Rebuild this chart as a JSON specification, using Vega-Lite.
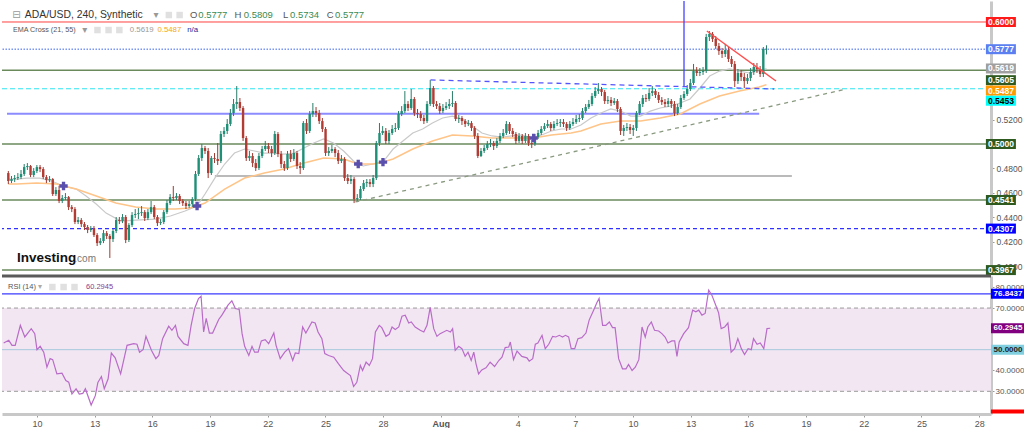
{
"$schema":"https://vega.github.io/schema/vega-lite/v6.json",
"padding":0,
"background":"#ffffff",
"spacing":3,
"bounds":"flush",
"config":{"view":{"stroke":null},"axis":{"grid":false},"font":"Liberation Sans"},
"datasets":{
"ohlc":[
{"i":0,"o":0.4762,"h":0.4779,"l":0.4672,"c":0.4697},{"i":1,"o":0.4697,"h":0.4738,"l":0.4680,"c":0.4713},{"i":2,"o":0.4713,"h":0.4746,"l":0.4688,"c":0.4721},{"i":3,"o":0.4721,"h":0.4762,"l":0.4705,"c":0.4729},{"i":4,"o":0.4729,"h":0.4787,"l":0.4713,"c":0.4754},{"i":5,"o":0.4754,"h":0.4836,"l":0.4738,"c":0.4811},{"i":6,"o":0.4811,"h":0.4844,"l":0.4787,"c":0.4820},{"i":7,"o":0.4820,"h":0.4828,"l":0.4729,"c":0.4746},{"i":8,"o":0.4746,"h":0.4803,"l":0.4729,"c":0.4779},{"i":9,"o":0.4779,"h":0.4828,"l":0.4762,"c":0.4811},
{"i":10,"o":0.4811,"h":0.4828,"l":0.4770,"c":0.4795},{"i":11,"o":0.4795,"h":0.4811,"l":0.4713,"c":0.4729},{"i":12,"o":0.4729,"h":0.4746,"l":0.4680,"c":0.4705},{"i":13,"o":0.4705,"h":0.4738,"l":0.4688,"c":0.4713},{"i":14,"o":0.4713,"h":0.4721,"l":0.4574,"c":0.4590},{"i":15,"o":0.4590,"h":0.4647,"l":0.4574,"c":0.4623},{"i":16,"o":0.4623,"h":0.4656,"l":0.4516,"c":0.4533},{"i":17,"o":0.4533,"h":0.4582,"l":0.4516,"c":0.4557},{"i":18,"o":0.4557,"h":0.4598,"l":0.4541,"c":0.4565},{"i":19,"o":0.4565,"h":0.4574,"l":0.4459,"c":0.4483},
{"i":20,"o":0.4483,"h":0.4500,"l":0.4442,"c":0.4467},{"i":21,"o":0.4467,"h":0.4483,"l":0.4344,"c":0.4361},{"i":22,"o":0.4361,"h":0.4402,"l":0.4344,"c":0.4377},{"i":23,"o":0.4377,"h":0.4393,"l":0.4320,"c":0.4344},{"i":24,"o":0.4344,"h":0.4361,"l":0.4295,"c":0.4320},{"i":25,"o":0.4320,"h":0.4336,"l":0.4270,"c":0.4295},{"i":26,"o":0.4295,"h":0.4328,"l":0.4279,"c":0.4311},{"i":27,"o":0.4311,"h":0.4328,"l":0.4238,"c":0.4254},{"i":28,"o":0.4254,"h":0.4270,"l":0.4164,"c":0.4188},{"i":29,"o":0.4188,"h":0.4229,"l":0.4172,"c":0.4205},
{"i":30,"o":0.4205,"h":0.4295,"l":0.4188,"c":0.4270},{"i":31,"o":0.4270,"h":0.4287,"l":0.4221,"c":0.4246},{"i":32,"o":0.4246,"h":0.4262,"l":0.4066,"c":0.4221},{"i":33,"o":0.4221,"h":0.4303,"l":0.4197,"c":0.4287},{"i":34,"o":0.4287,"h":0.4402,"l":0.4270,"c":0.4377},{"i":35,"o":0.4377,"h":0.4402,"l":0.4344,"c":0.4369},{"i":36,"o":0.4369,"h":0.4426,"l":0.4352,"c":0.4402},{"i":37,"o":0.4402,"h":0.4418,"l":0.4188,"c":0.4213},{"i":38,"o":0.4213,"h":0.4352,"l":0.4197,"c":0.4336},{"i":39,"o":0.4336,"h":0.4442,"l":0.4320,"c":0.4418},
{"i":40,"o":0.4418,"h":0.4467,"l":0.4393,"c":0.4426},{"i":41,"o":0.4426,"h":0.4475,"l":0.4385,"c":0.4434},{"i":42,"o":0.4434,"h":0.4492,"l":0.4410,"c":0.4442},{"i":43,"o":0.4442,"h":0.4459,"l":0.4369,"c":0.4393},{"i":44,"o":0.4393,"h":0.4467,"l":0.4377,"c":0.4442},{"i":45,"o":0.4442,"h":0.4533,"l":0.4426,"c":0.4483},{"i":46,"o":0.4483,"h":0.4500,"l":0.4385,"c":0.4402},{"i":47,"o":0.4402,"h":0.4418,"l":0.4328,"c":0.4352},{"i":48,"o":0.4352,"h":0.4385,"l":0.4336,"c":0.4361},{"i":49,"o":0.4361,"h":0.4459,"l":0.4344,"c":0.4442},
{"i":50,"o":0.4442,"h":0.4541,"l":0.4426,"c":0.4516},{"i":51,"o":0.4516,"h":0.4590,"l":0.4500,"c":0.4565},{"i":52,"o":0.4565,"h":0.4656,"l":0.4533,"c":0.4557},{"i":53,"o":0.4557,"h":0.4598,"l":0.4541,"c":0.4574},{"i":54,"o":0.4574,"h":0.4590,"l":0.4508,"c":0.4533},{"i":55,"o":0.4533,"h":0.4549,"l":0.4492,"c":0.4516},{"i":56,"o":0.4516,"h":0.4533,"l":0.4467,"c":0.4492},{"i":57,"o":0.4492,"h":0.4533,"l":0.4475,"c":0.4508},{"i":58,"o":0.4508,"h":0.4565,"l":0.4483,"c":0.4549},{"i":59,"o":0.4549,"h":0.4779,"l":0.4533,"c":0.4754},
{"i":60,"o":0.4754,"h":0.4910,"l":0.4738,"c":0.4885},{"i":61,"o":0.4885,"h":0.5000,"l":0.4861,"c":0.4967},{"i":62,"o":0.4967,"h":0.4984,"l":0.4918,"c":0.4943},{"i":63,"o":0.4943,"h":0.4967,"l":0.4721,"c":0.4762},{"i":64,"o":0.4762,"h":0.4902,"l":0.4746,"c":0.4885},{"i":65,"o":0.4885,"h":0.4926,"l":0.4844,"c":0.4877},{"i":66,"o":0.4877,"h":0.5008,"l":0.4828,"c":0.4861},{"i":67,"o":0.4861,"h":0.5107,"l":0.4844,"c":0.5082},{"i":68,"o":0.5082,"h":0.5139,"l":0.5057,"c":0.5107},{"i":69,"o":0.5107,"h":0.5205,"l":0.5082,"c":0.5164},
{"i":70,"o":0.5164,"h":0.5287,"l":0.5147,"c":0.5254},{"i":71,"o":0.5254,"h":0.5369,"l":0.5229,"c":0.5328},{"i":72,"o":0.5328,"h":0.5475,"l":0.5287,"c":0.5344},{"i":73,"o":0.5344,"h":0.5377,"l":0.5270,"c":0.5295},{"i":74,"o":0.5295,"h":0.5311,"l":0.5025,"c":0.5049},{"i":75,"o":0.5049,"h":0.5066,"l":0.4861,"c":0.4885},{"i":76,"o":0.4885,"h":0.4943,"l":0.4861,"c":0.4902},{"i":77,"o":0.4902,"h":0.4926,"l":0.4811,"c":0.4844},{"i":78,"o":0.4844,"h":0.4877,"l":0.4779,"c":0.4803},{"i":79,"o":0.4803,"h":0.4926,"l":0.4787,"c":0.4902},
{"i":80,"o":0.4902,"h":0.4984,"l":0.4885,"c":0.4959},{"i":81,"o":0.4959,"h":0.5025,"l":0.4943,"c":0.4984},{"i":82,"o":0.4984,"h":0.5008,"l":0.4926,"c":0.4959},{"i":83,"o":0.4959,"h":0.4984,"l":0.4893,"c":0.4926},{"i":84,"o":0.4926,"h":0.5107,"l":0.4910,"c":0.5082},{"i":85,"o":0.5082,"h":0.5098,"l":0.4893,"c":0.4918},{"i":86,"o":0.4918,"h":0.4943,"l":0.4803,"c":0.4836},{"i":87,"o":0.4836,"h":0.4861,"l":0.4779,"c":0.4803},{"i":88,"o":0.4803,"h":0.4943,"l":0.4787,"c":0.4918},{"i":89,"o":0.4918,"h":0.4951,"l":0.4852,"c":0.4877},
{"i":90,"o":0.4877,"h":0.4959,"l":0.4861,"c":0.4926},{"i":91,"o":0.4926,"h":0.4943,"l":0.4795,"c":0.4820},{"i":92,"o":0.4820,"h":0.4852,"l":0.4754,"c":0.4803},{"i":93,"o":0.4803,"h":0.5188,"l":0.4787,"c":0.5172},{"i":94,"o":0.5172,"h":0.5205,"l":0.5082,"c":0.5107},{"i":95,"o":0.5107,"h":0.5270,"l":0.5090,"c":0.5246},{"i":96,"o":0.5246,"h":0.5336,"l":0.5221,"c":0.5270},{"i":97,"o":0.5270,"h":0.5303,"l":0.5221,"c":0.5254},{"i":98,"o":0.5254,"h":0.5279,"l":0.5164,"c":0.5188},{"i":99,"o":0.5188,"h":0.5213,"l":0.5098,"c":0.5123},
{"i":100,"o":0.5123,"h":0.5139,"l":0.4902,"c":0.4926},{"i":101,"o":0.4926,"h":0.4975,"l":0.4902,"c":0.4943},{"i":102,"o":0.4943,"h":0.4992,"l":0.4926,"c":0.4959},{"i":103,"o":0.4959,"h":0.4975,"l":0.4893,"c":0.4926},{"i":104,"o":0.4926,"h":0.4951,"l":0.4836,"c":0.4861},{"i":105,"o":0.4861,"h":0.4910,"l":0.4844,"c":0.4877},{"i":106,"o":0.4877,"h":0.4893,"l":0.4697,"c":0.4721},{"i":107,"o":0.4721,"h":0.4754,"l":0.4672,"c":0.4697},{"i":108,"o":0.4697,"h":0.4746,"l":0.4672,"c":0.4713},{"i":109,"o":0.4713,"h":0.4729,"l":0.4516,"c":0.4549},
{"i":110,"o":0.4549,"h":0.4590,"l":0.4524,"c":0.4557},{"i":111,"o":0.4557,"h":0.4656,"l":0.4541,"c":0.4631},{"i":112,"o":0.4631,"h":0.4705,"l":0.4615,"c":0.4680},{"i":113,"o":0.4680,"h":0.4713,"l":0.4647,"c":0.4688},{"i":114,"o":0.4688,"h":0.4713,"l":0.4647,"c":0.4672},{"i":115,"o":0.4672,"h":0.4746,"l":0.4647,"c":0.4721},{"i":116,"o":0.4721,"h":0.5025,"l":0.4705,"c":0.5008},{"i":117,"o":0.5008,"h":0.5172,"l":0.4984,"c":0.5090},{"i":118,"o":0.5090,"h":0.5147,"l":0.5074,"c":0.5107},{"i":119,"o":0.5107,"h":0.5131,"l":0.5000,"c":0.5025},
{"i":120,"o":0.5025,"h":0.5115,"l":0.5000,"c":0.5090},{"i":121,"o":0.5090,"h":0.5156,"l":0.5074,"c":0.5123},{"i":122,"o":0.5123,"h":0.5172,"l":0.5098,"c":0.5131},{"i":123,"o":0.5131,"h":0.5270,"l":0.5115,"c":0.5246},{"i":124,"o":0.5246,"h":0.5311,"l":0.5229,"c":0.5270},{"i":125,"o":0.5270,"h":0.5434,"l":0.5254,"c":0.5328},{"i":126,"o":0.5328,"h":0.5352,"l":0.5270,"c":0.5295},{"i":127,"o":0.5295,"h":0.5451,"l":0.5279,"c":0.5369},{"i":128,"o":0.5369,"h":0.5385,"l":0.5229,"c":0.5254},{"i":129,"o":0.5254,"h":0.5287,"l":0.5213,"c":0.5246},
{"i":130,"o":0.5246,"h":0.5270,"l":0.5188,"c":0.5213},{"i":131,"o":0.5213,"h":0.5238,"l":0.5164,"c":0.5188},{"i":132,"o":0.5188,"h":0.5352,"l":0.5172,"c":0.5328},{"i":133,"o":0.5328,"h":0.5525,"l":0.5311,"c":0.5459},{"i":134,"o":0.5459,"h":0.5475,"l":0.5303,"c":0.5328},{"i":135,"o":0.5328,"h":0.5352,"l":0.5287,"c":0.5311},{"i":136,"o":0.5311,"h":0.5336,"l":0.5246,"c":0.5270},{"i":137,"o":0.5270,"h":0.5328,"l":0.5254,"c":0.5295},{"i":138,"o":0.5295,"h":0.5344,"l":0.5279,"c":0.5311},{"i":139,"o":0.5311,"h":0.5369,"l":0.5287,"c":0.5328},
{"i":140,"o":0.5328,"h":0.5434,"l":0.5303,"c":0.5336},{"i":141,"o":0.5336,"h":0.5352,"l":0.5188,"c":0.5205},{"i":142,"o":0.5205,"h":0.5238,"l":0.5172,"c":0.5213},{"i":143,"o":0.5213,"h":0.5229,"l":0.5156,"c":0.5188},{"i":144,"o":0.5188,"h":0.5205,"l":0.5139,"c":0.5164},{"i":145,"o":0.5164,"h":0.5197,"l":0.5147,"c":0.5172},{"i":146,"o":0.5172,"h":0.5188,"l":0.5107,"c":0.5131},{"i":147,"o":0.5131,"h":0.5147,"l":0.5041,"c":0.5066},{"i":148,"o":0.5066,"h":0.5090,"l":0.4885,"c":0.4902},{"i":149,"o":0.4902,"h":0.4967,"l":0.4893,"c":0.4943},
{"i":150,"o":0.4943,"h":0.4992,"l":0.4926,"c":0.4967},{"i":151,"o":0.4967,"h":0.5025,"l":0.4951,"c":0.5000},{"i":152,"o":0.5000,"h":0.5041,"l":0.4975,"c":0.5008},{"i":153,"o":0.5008,"h":0.5025,"l":0.4951,"c":0.4984},{"i":154,"o":0.4984,"h":0.5049,"l":0.4967,"c":0.5025},{"i":155,"o":0.5025,"h":0.5090,"l":0.5008,"c":0.5066},{"i":156,"o":0.5066,"h":0.5123,"l":0.5049,"c":0.5090},{"i":157,"o":0.5090,"h":0.5188,"l":0.5074,"c":0.5164},{"i":158,"o":0.5164,"h":0.5180,"l":0.5082,"c":0.5107},{"i":159,"o":0.5107,"h":0.5131,"l":0.5057,"c":0.5082},
{"i":160,"o":0.5082,"h":0.5098,"l":0.5000,"c":0.5025},{"i":161,"o":0.5025,"h":0.5090,"l":0.5008,"c":0.5066},{"i":162,"o":0.5066,"h":0.5082,"l":0.5000,"c":0.5025},{"i":163,"o":0.5025,"h":0.5090,"l":0.5008,"c":0.5066},{"i":164,"o":0.5066,"h":0.5082,"l":0.4984,"c":0.5008},{"i":165,"o":0.5008,"h":0.5033,"l":0.4967,"c":0.5000},{"i":166,"o":0.5000,"h":0.5082,"l":0.4984,"c":0.5057},{"i":167,"o":0.5057,"h":0.5115,"l":0.5041,"c":0.5090},{"i":168,"o":0.5090,"h":0.5147,"l":0.5074,"c":0.5123},{"i":169,"o":0.5123,"h":0.5172,"l":0.5107,"c":0.5147},
{"i":170,"o":0.5147,"h":0.5197,"l":0.5131,"c":0.5164},{"i":171,"o":0.5164,"h":0.5180,"l":0.5107,"c":0.5131},{"i":172,"o":0.5131,"h":0.5188,"l":0.5115,"c":0.5164},{"i":173,"o":0.5164,"h":0.5205,"l":0.5147,"c":0.5172},{"i":174,"o":0.5172,"h":0.5205,"l":0.5139,"c":0.5180},{"i":175,"o":0.5180,"h":0.5205,"l":0.5139,"c":0.5164},{"i":176,"o":0.5164,"h":0.5180,"l":0.5107,"c":0.5131},{"i":177,"o":0.5131,"h":0.5188,"l":0.5115,"c":0.5164},{"i":178,"o":0.5164,"h":0.5213,"l":0.5147,"c":0.5180},{"i":179,"o":0.5180,"h":0.5238,"l":0.5164,"c":0.5205},
{"i":180,"o":0.5205,"h":0.5246,"l":0.5180,"c":0.5213},{"i":181,"o":0.5213,"h":0.5295,"l":0.5197,"c":0.5270},{"i":182,"o":0.5270,"h":0.5328,"l":0.5254,"c":0.5303},{"i":183,"o":0.5303,"h":0.5361,"l":0.5287,"c":0.5328},{"i":184,"o":0.5328,"h":0.5418,"l":0.5311,"c":0.5393},{"i":185,"o":0.5393,"h":0.5467,"l":0.5377,"c":0.5434},{"i":186,"o":0.5434,"h":0.5500,"l":0.5410,"c":0.5451},{"i":187,"o":0.5451,"h":0.5467,"l":0.5393,"c":0.5426},{"i":188,"o":0.5426,"h":0.5443,"l":0.5328,"c":0.5352},{"i":189,"o":0.5352,"h":0.5393,"l":0.5328,"c":0.5361},
{"i":190,"o":0.5361,"h":0.5385,"l":0.5311,"c":0.5336},{"i":191,"o":0.5336,"h":0.5377,"l":0.5320,"c":0.5352},{"i":192,"o":0.5352,"h":0.5369,"l":0.5262,"c":0.5287},{"i":193,"o":0.5287,"h":0.5303,"l":0.5074,"c":0.5107},{"i":194,"o":0.5107,"h":0.5156,"l":0.5066,"c":0.5131},{"i":195,"o":0.5131,"h":0.5172,"l":0.5107,"c":0.5139},{"i":196,"o":0.5139,"h":0.5164,"l":0.5082,"c":0.5115},{"i":197,"o":0.5115,"h":0.5156,"l":0.5066,"c":0.5131},{"i":198,"o":0.5131,"h":0.5270,"l":0.5107,"c":0.5254},{"i":199,"o":0.5254,"h":0.5352,"l":0.5238,"c":0.5328},
{"i":200,"o":0.5328,"h":0.5402,"l":0.5303,"c":0.5377},{"i":201,"o":0.5377,"h":0.5410,"l":0.5344,"c":0.5369},{"i":202,"o":0.5369,"h":0.5459,"l":0.5352,"c":0.5418},{"i":203,"o":0.5418,"h":0.5475,"l":0.5393,"c":0.5434},{"i":204,"o":0.5434,"h":0.5451,"l":0.5377,"c":0.5402},{"i":205,"o":0.5402,"h":0.5426,"l":0.5336,"c":0.5361},{"i":206,"o":0.5361,"h":0.5385,"l":0.5320,"c":0.5344},{"i":207,"o":0.5344,"h":0.5369,"l":0.5303,"c":0.5328},{"i":208,"o":0.5328,"h":0.5377,"l":0.5303,"c":0.5352},{"i":209,"o":0.5352,"h":0.5369,"l":0.5295,"c":0.5328},
{"i":210,"o":0.5328,"h":0.5352,"l":0.5229,"c":0.5254},{"i":211,"o":0.5254,"h":0.5328,"l":0.5238,"c":0.5303},{"i":212,"o":0.5303,"h":0.5402,"l":0.5287,"c":0.5377},{"i":213,"o":0.5377,"h":0.5434,"l":0.5361,"c":0.5410},{"i":214,"o":0.5410,"h":0.5484,"l":0.5393,"c":0.5451},{"i":215,"o":0.5451,"h":0.5533,"l":0.5434,"c":0.5500},{"i":216,"o":0.5500,"h":0.5656,"l":0.5484,"c":0.5598},{"i":217,"o":0.5598,"h":0.5631,"l":0.5557,"c":0.5582},{"i":218,"o":0.5582,"h":0.5623,"l":0.5557,"c":0.5590},{"i":219,"o":0.5590,"h":0.5631,"l":0.5566,"c":0.5598},
{"i":220,"o":0.5598,"h":0.5902,"l":0.5582,"c":0.5877},{"i":221,"o":0.5877,"h":0.5926,"l":0.5844,"c":0.5902},{"i":222,"o":0.5902,"h":0.5918,"l":0.5836,"c":0.5861},{"i":223,"o":0.5861,"h":0.5885,"l":0.5779,"c":0.5803},{"i":224,"o":0.5803,"h":0.5828,"l":0.5730,"c":0.5762},{"i":225,"o":0.5762,"h":0.5787,"l":0.5705,"c":0.5738},{"i":226,"o":0.5738,"h":0.5820,"l":0.5713,"c":0.5770},{"i":227,"o":0.5770,"h":0.5795,"l":0.5672,"c":0.5697},{"i":228,"o":0.5697,"h":0.5721,"l":0.5631,"c":0.5656},{"i":229,"o":0.5656,"h":0.5680,"l":0.5467,"c":0.5516},
{"i":230,"o":0.5516,"h":0.5615,"l":0.5492,"c":0.5582},{"i":231,"o":0.5582,"h":0.5607,"l":0.5516,"c":0.5549},{"i":232,"o":0.5549,"h":0.5582,"l":0.5459,"c":0.5516},{"i":233,"o":0.5516,"h":0.5574,"l":0.5492,"c":0.5541},{"i":234,"o":0.5541,"h":0.5623,"l":0.5516,"c":0.5590},{"i":235,"o":0.5590,"h":0.5664,"l":0.5566,"c":0.5631},{"i":236,"o":0.5631,"h":0.5664,"l":0.5582,"c":0.5615},{"i":237,"o":0.5615,"h":0.5639,"l":0.5549,"c":0.5574},{"i":238,"o":0.5574,"h":0.5795,"l":0.5549,"c":0.5779},{"i":239,"o":0.5777,"h":0.5809,"l":0.5734,"c":0.5777}
],
"ema21":[
{"i":0,"p":0.4713},{"i":2.7,"p":0.4713},{"i":5.8,"p":0.4721},{"i":9.9,"p":0.4721},{"i":13.6,"p":0.4697},{"i":17.4,"p":0.4656},{"i":21.4,"p":0.4631},{"i":24.5,"p":0.4574},{"i":27.7,"p":0.4508},{"i":30.8,"p":0.4434},{"i":35.5,"p":0.4369},{"i":40.1,"p":0.4377},{"i":46.4,"p":0.4385},{"i":51.1,"p":0.4410},{"i":55.7,"p":0.4451},{"i":59.5,"p":0.4492},{"i":62,"p":0.4590},{"i":65.1,"p":0.4721},{"i":68.2,"p":0.4836},{"i":71.3,"p":0.4926},{"i":74.5,"p":0.4959},{"i":77.6,"p":0.4943},{"i":80.7,"p":0.4926},{"i":83.8,"p":0.4926},{"i":86.9,"p":0.4918},{"i":90.1,"p":0.4926},{"i":93.2,"p":0.4967},{"i":96.3,"p":0.5008},{"i":99.4,"p":0.5041},{"i":102.5,"p":0.5008},{"i":105.7,"p":0.4943},{"i":108.8,"p":0.4861},{"i":110.3,"p":0.4836},{"i":111.9,"p":0.4820},{"i":115,"p":0.4836},{"i":118.1,"p":0.4852},{"i":121.3,"p":0.4959},{"i":124.4,"p":0.5025},{"i":127.5,"p":0.5090},{"i":130.6,"p":0.5123},{"i":133.7,"p":0.5172},{"i":136.9,"p":0.5213},{"i":140,"p":0.5229},{"i":143.1,"p":0.5205},{"i":146.2,"p":0.5147},{"i":149.3,"p":0.5090},{"i":152.5,"p":0.5066},{"i":155.6,"p":0.5057},{"i":158.7,"p":0.5066},{"i":161.8,"p":0.5074},{"i":165.6,"p":0.5049},{"i":168.1,"p":0.5074},{"i":171.2,"p":0.5107},{"i":174.3,"p":0.5123},{"i":177.4,"p":0.5123},{"i":180.5,"p":0.5156},{"i":183.7,"p":0.5213},{"i":186.8,"p":0.5254},{"i":189.9,"p":0.5287},{"i":193,"p":0.5270},{"i":196.2,"p":0.5229},{"i":199.3,"p":0.5229},{"i":202.4,"p":0.5270},{"i":205.5,"p":0.5295},{"i":208.6,"p":0.5311},{"i":211.8,"p":0.5336},{"i":214.9,"p":0.5369},{"i":218,"p":0.5459},{"i":221.1,"p":0.5557},{"i":224.2,"p":0.5598},{"i":227.4,"p":0.5615},{"i":230.5,"p":0.5598},{"i":233.6,"p":0.5582},{"i":236.7,"p":0.5598},{"i":239,"p":0.5619}
],
"ema55":[
{"i":0,"p":0.4672},{"i":2.7,"p":0.4672},{"i":8.9,"p":0.4680},{"i":15.2,"p":0.4672},{"i":17.4,"p":0.4656},{"i":21.4,"p":0.4631},{"i":27.7,"p":0.4574},{"i":33.9,"p":0.4516},{"i":40.1,"p":0.4483},{"i":46.4,"p":0.4467},{"i":52.6,"p":0.4467},{"i":57.3,"p":0.4475},{"i":59.5,"p":0.4492},{"i":62,"p":0.4516},{"i":68.2,"p":0.4631},{"i":74.5,"p":0.4721},{"i":80.7,"p":0.4762},{"i":86.9,"p":0.4795},{"i":93.2,"p":0.4844},{"i":99.4,"p":0.4885},{"i":105.7,"p":0.4877},{"i":110.3,"p":0.4836},{"i":115,"p":0.4836},{"i":118.1,"p":0.4852},{"i":121.3,"p":0.4877},{"i":127.5,"p":0.4959},{"i":133.7,"p":0.5025},{"i":140,"p":0.5074},{"i":146.2,"p":0.5066},{"i":152.5,"p":0.5049},{"i":158.7,"p":0.5049},{"i":165.6,"p":0.5049},{"i":171.2,"p":0.5074},{"i":177.4,"p":0.5090},{"i":180.5,"p":0.5107},{"i":186.8,"p":0.5164},{"i":193,"p":0.5188},{"i":199.3,"p":0.5188},{"i":205.5,"p":0.5213},{"i":211.8,"p":0.5246},{"i":218,"p":0.5328},{"i":224.2,"p":0.5393},{"i":230.5,"p":0.5434},{"i":236.7,"p":0.5467},{"i":239,"p":0.5487}
],
"cross":[{"i":17.4,"p":0.4656},{"i":59.5,"p":0.4492},{"i":110.3,"p":0.4836},{"i":118.1,"p":0.4852},{"i":165.6,"p":0.5049}],
"rsi":[
{"i":0.1,"v":53.2},{"i":1.7,"v":54.5},{"i":2.7,"v":52.1},{"i":3.7,"v":52.1},{"i":5.3,"v":61.7},{"i":6.7,"v":56.1},{"i":8.7,"v":60.1},{"i":9.8,"v":57.7},{"i":10.5,"v":50.0},{"i":11.5,"v":51.6},{"i":12.6,"v":48.8},{"i":13.6,"v":41.6},{"i":14.6,"v":45.7},{"i":15.4,"v":45.2},{"i":16.7,"v":38.4},{"i":18.3,"v":38.7},{"i":19.5,"v":35.2},{"i":20.4,"v":34.4},{"i":21.4,"v":28.7},{"i":22.7,"v":31.2},{"i":23.7,"v":28.7},{"i":24.8,"v":29.0},{"i":25.6,"v":31.2},{"i":27.4,"v":23.4},{"i":28.7,"v":27.9},{"i":29.5,"v":34.3},{"i":30.6,"v":37.1},{"i":31.5,"v":31.2},{"i":32.7,"v":36.0},{"i":33.7,"v":48.4},{"i":34.9,"v":46.1},{"i":36.6,"v":38.4},{"i":38.6,"v":52.1},{"i":40.7,"v":52.9},{"i":41.7,"v":52.6},{"i":42.5,"v":48.8},{"i":43.6,"v":50.0},{"i":44.5,"v":56.4},{"i":46.2,"v":49.7},{"i":47.6,"v":45.7},{"i":48.5,"v":47.2},{"i":49.7,"v":55.3},{"i":51.6,"v":61.3},{"i":52.6,"v":59.3},{"i":53.7,"v":61.7},{"i":54.5,"v":56.4},{"i":56.3,"v":52.9},{"i":57.6,"v":52.1},{"i":58.6,"v":61.7},{"i":59.7,"v":69.8},{"i":60.9,"v":74.6},{"i":61.7,"v":75.7},{"i":62.5,"v":58.5},{"i":63.3,"v":65.0},{"i":64.3,"v":58.0},{"i":65.3,"v":58.0},{"i":67.2,"v":64.5},{"i":68.2,"v":66.6},{"i":70.1,"v":71.4},{"i":71.3,"v":73.5},{"i":72.4,"v":69.8},{"i":73.6,"v":69.3},{"i":74.5,"v":57.7},{"i":75.3,"v":51.6},{"i":76.6,"v":47.2},{"i":77.6,"v":51.6},{"i":78.4,"v":48.8},{"i":79.5,"v":48.8},{"i":80.5,"v":54.2},{"i":81.7,"v":54.8},{"i":82.8,"v":52.9},{"i":84.4,"v":58.0},{"i":85.1,"v":52.1},{"i":86.4,"v":45.7},{"i":87.8,"v":48.8},{"i":89.0,"v":50.5},{"i":90.3,"v":44.8},{"i":91.1,"v":48.4},{"i":92.2,"v":48.1},{"i":93.4,"v":60.9},{"i":94.4,"v":58.0},{"i":96.3,"v":63.3},{"i":97.3,"v":62.8},{"i":98.2,"v":58.5},{"i":99.4,"v":55.3},{"i":100.3,"v":48.1},{"i":101.5,"v":47.2},{"i":103.1,"v":46.4},{"i":104.6,"v":43.2},{"i":106.2,"v":40.0},{"i":108.3,"v":37.6},{"i":109.3,"v":32.3},{"i":110.3,"v":34.3},{"i":111.4,"v":42.4},{"i":112.1,"v":40.0},{"i":113.2,"v":44.0},{"i":114.2,"v":42.4},{"i":115.2,"v":45.7},{"i":116.1,"v":58.5},{"i":117.3,"v":61.7},{"i":118.1,"v":60.6},{"i":119.4,"v":56.4},{"i":120.4,"v":57.4},{"i":121.3,"v":60.9},{"i":122.3,"v":59.7},{"i":123.4,"v":60.9},{"i":124.4,"v":66.1},{"i":125.4,"v":66.6},{"i":126.5,"v":62.8},{"i":127.3,"v":63.3},{"i":128.5,"v":60.9},{"i":130.1,"v":59.3},{"i":131.2,"v":58.5},{"i":132.2,"v":61.7},{"i":133.2,"v":70.3},{"i":134.3,"v":60.1},{"i":135.3,"v":56.4},{"i":136.3,"v":57.7},{"i":138.4,"v":59.3},{"i":139.5,"v":58.5},{"i":140.2,"v":60.1},{"i":141.0,"v":49.7},{"i":142.1,"v":51.6},{"i":143.1,"v":50.5},{"i":144.1,"v":46.8},{"i":145.0,"v":48.8},{"i":146.0,"v":44.8},{"i":146.8,"v":48.8},{"i":147.5,"v":43.2},{"i":148.3,"v":38.4},{"i":149.3,"v":40.3},{"i":150.6,"v":41.3},{"i":151.9,"v":44.0},{"i":153.3,"v":41.9},{"i":154.6,"v":44.8},{"i":155.6,"v":46.4},{"i":156.6,"v":51.0},{"i":157.7,"v":51.3},{"i":158.2,"v":53.7},{"i":159.2,"v":45.2},{"i":160.3,"v":49.3},{"i":161.8,"v":46.8},{"i":163.4,"v":46.1},{"i":164.1,"v":44.5},{"i":165.2,"v":45.7},{"i":166.0,"v":52.6},{"i":166.8,"v":53.2},{"i":168.1,"v":56.9},{"i":169.1,"v":50.5},{"i":170.2,"v":52.6},{"i":171.4,"v":56.4},{"i":172.4,"v":56.1},{"i":173.5,"v":56.9},{"i":174.5,"v":56.1},{"i":175.4,"v":56.9},{"i":176.4,"v":56.1},{"i":177.2,"v":50.5},{"i":178.3,"v":50.5},{"i":179.3,"v":55.3},{"i":180.5,"v":55.8},{"i":181.8,"v":58.0},{"i":182.8,"v":64.2},{"i":184.2,"v":69.0},{"i":185.2,"v":72.5},{"i":185.9,"v":74.6},{"i":187.0,"v":61.7},{"i":188.0,"v":61.7},{"i":189.1,"v":63.3},{"i":190.1,"v":60.6},{"i":190.9,"v":60.6},{"i":192.0,"v":45.7},{"i":193.2,"v":40.8},{"i":194.3,"v":40.8},{"i":195.1,"v":42.9},{"i":196.2,"v":40.0},{"i":197.2,"v":41.6},{"i":198.3,"v":45.2},{"i":199.3,"v":60.9},{"i":200.3,"v":56.1},{"i":201.1,"v":60.9},{"i":202.2,"v":63.3},{"i":203.2,"v":59.3},{"i":204.5,"v":59.0},{"i":205.5,"v":57.7},{"i":206.5,"v":56.1},{"i":207.4,"v":53.2},{"i":208.6,"v":54.2},{"i":209.5,"v":54.2},{"i":210.2,"v":46.8},{"i":210.9,"v":53.7},{"i":212.3,"v":57.7},{"i":213.8,"v":60.6},{"i":215.1,"v":69.0},{"i":216.1,"v":68.2},{"i":217.0,"v":69.0},{"i":218.0,"v":66.6},{"i":219.0,"v":67.4},{"i":220.1,"v":78.6},{"i":221.1,"v":76.2},{"i":222.1,"v":72.2},{"i":223.2,"v":67.7},{"i":224.0,"v":60.1},{"i":225.1,"v":60.9},{"i":226.1,"v":62.8},{"i":227.1,"v":48.8},{"i":228.2,"v":50.5},{"i":229.2,"v":55.3},{"i":230.3,"v":50.5},{"i":231.3,"v":47.7},{"i":232.4,"v":50.5},{"i":233.4,"v":50.0},{"i":234.1,"v":55.3},{"i":235.2,"v":52.6},{"i":236.2,"v":53.2},{"i":237.3,"v":50.5},{"i":238.3,"v":60.1},{"i":239.3,"v":60.29}
]
},
"vconcat":[
{
"width":989,"height":272,
"resolve":{"scale":{"color":"independent"}},
"layer":[
{"data":{"values":[{"p":0.6}]},"mark":{"type":"rule","color":"#ff4040","strokeWidth":1},
 "encoding":{"y":{"field":"p","type":"quantitative","title":null,"scale":{"domain":[0.3943,0.6172],"nice":false,"zero":false},
  "axis":{"orient":"right","values":[0.52,0.48,0.46,0.44,0.42,0.4],"format":".4f","title":null,"labelColor":"#555555","labelFontSize":8.5,"labelFont":"Liberation Sans","tickSize":3,"tickColor":"#999999","domainColor":"#c8c8c8","domainWidth":3,"labelPadding":2,"labelFlush":false,"labelOverlap":false,"grid":false}}}},
{"data":{"values":[{"p":0.5605},{"p":0.5},{"p":0.4541},{"p":0.3967}]},"mark":{"type":"rule","color":"#6b8a5c","strokeWidth":1.5},
 "encoding":{"y":{"field":"p","type":"quantitative","title":null,"scale":{"domain":[0.3943,0.6172],"nice":false,"zero":false}}}},
{"data":{"values":[{"p":0.5777}]},"mark":{"type":"rule","color":"#7a95f5","strokeWidth":1.5,"strokeDash":[1.5,1.5]},
 "encoding":{"y":{"field":"p","type":"quantitative","title":null,"scale":{"domain":[0.3943,0.6172],"nice":false,"zero":false}}}},
{"data":{"values":[{"p":0.5453}]},"mark":{"type":"rule","color":"#2ee6f2","strokeWidth":1.2,"strokeDash":[5,3]},
 "encoding":{"y":{"field":"p","type":"quantitative","title":null,"scale":{"domain":[0.3943,0.6172],"nice":false,"zero":false}}}},
{"data":{"values":[{"p":0.4307}]},"mark":{"type":"rule","color":"#3030ff","strokeWidth":1.2,"strokeDash":[4,3]},
 "encoding":{"y":{"field":"p","type":"quantitative","title":null,"scale":{"domain":[0.3943,0.6172],"nice":false,"zero":false}}}},
{"data":{"values":[{"i":-0.42,"i2":236.7,"p":0.5249}]},"mark":{"type":"rule","color":"#8c8cff","strokeWidth":2},
 "encoding":{"x":{"field":"i","type":"quantitative","scale":{"domain":[-0.42,308.2],"nice":false,"zero":false},"axis":null},"x2":{"field":"i2"},
  "y":{"field":"p","type":"quantitative","title":null,"scale":{"domain":[0.3943,0.6172],"nice":false,"zero":false}}}},
{"data":{"values":[{"i":65.1,"i2":247,"p":0.4738}]},"mark":{"type":"rule","color":"#bababa","strokeWidth":2},
 "encoding":{"x":{"field":"i","type":"quantitative","scale":{"domain":[-0.42,308.2],"nice":false,"zero":false},"axis":null},"x2":{"field":"i2"},
  "y":{"field":"p","type":"quantitative","title":null,"scale":{"domain":[0.3943,0.6172],"nice":false,"zero":false}}}},
{"data":{"values":[{"i":213,"p":0.6172,"p2":0.5467}]},"mark":{"type":"rule","color":"#4444ff","strokeWidth":1.3},
 "encoding":{"x":{"field":"i","type":"quantitative","scale":{"domain":[-0.42,308.2],"nice":false,"zero":false},"axis":null},
  "y":{"field":"p","type":"quantitative","title":null,"scale":{"domain":[0.3943,0.6172],"nice":false,"zero":false}},"y2":{"field":"p2"}}},
{"data":{"name":"ema21"},"mark":{"type":"line","color":"#c9c9c9","strokeWidth":1.2},
 "encoding":{"x":{"field":"i","type":"quantitative","scale":{"domain":[-0.42,308.2],"nice":false,"zero":false},"axis":null},
  "y":{"field":"p","type":"quantitative","title":null,"scale":{"domain":[0.3943,0.6172],"nice":false,"zero":false}}}},
{"data":{"name":"ema55"},"mark":{"type":"line","color":"#ffc488","strokeWidth":1.5},
 "encoding":{"x":{"field":"i","type":"quantitative","scale":{"domain":[-0.42,308.2],"nice":false,"zero":false},"axis":null},
  "y":{"field":"p","type":"quantitative","title":null,"scale":{"domain":[0.3943,0.6172],"nice":false,"zero":false}}}},
{"data":{"name":"ohlc"},"mark":{"type":"rule","strokeWidth":1},
 "encoding":{"x":{"field":"i","type":"quantitative","scale":{"domain":[-0.42,308.2],"nice":false,"zero":false},"axis":null},
  "y":{"field":"l","type":"quantitative","title":null,"scale":{"domain":[0.3943,0.6172],"nice":false,"zero":false}},"y2":{"field":"h"},
  "color":{"condition":{"test":"datum.c >= datum.o","value":"#2a7d68"},"value":"#9c3a32"}}},
{"data":{"name":"ohlc"},"mark":{"type":"bar","size":2.4},
 "encoding":{"x":{"field":"i","type":"quantitative","scale":{"domain":[-0.42,308.2],"nice":false,"zero":false},"axis":null},
  "y":{"field":"o","type":"quantitative","title":null,"scale":{"domain":[0.3943,0.6172],"nice":false,"zero":false}},"y2":{"field":"c"},
  "color":{"condition":{"test":"datum.c >= datum.o","value":"#1d9077"},"value":"#b23b33"}}},
{"data":{"values":[{"i":109.4,"p":0.4525,"i2":264.2,"p2":0.5451}]},"mark":{"type":"rule","color":"#8a9a80","strokeWidth":1.3,"strokeDash":[4,4]},
 "encoding":{"x":{"field":"i","type":"quantitative","scale":{"domain":[-0.42,308.2],"nice":false,"zero":false},"axis":null},"x2":{"field":"i2"},
  "y":{"field":"p","type":"quantitative","title":null,"scale":{"domain":[0.3943,0.6172],"nice":false,"zero":false}},"y2":{"field":"p2"}}},
{"data":{"values":[{"i":133.1,"p":0.5525,"i2":241.4,"p2":0.5451}]},"mark":{"type":"rule","color":"#5555ff","strokeWidth":1.3,"strokeDash":[5,4]},
 "encoding":{"x":{"field":"i","type":"quantitative","scale":{"domain":[-0.42,308.2],"nice":false,"zero":false},"axis":null},"x2":{"field":"i2"},
  "y":{"field":"p","type":"quantitative","title":null,"scale":{"domain":[0.3943,0.6172],"nice":false,"zero":false}},"y2":{"field":"p2"}}},
{"data":{"values":[{"i":220.2,"p":0.5926,"i2":242,"p2":0.5516}]},"mark":{"type":"rule","color":"#ff4d4d","strokeWidth":1.3},
 "encoding":{"x":{"field":"i","type":"quantitative","scale":{"domain":[-0.42,308.2],"nice":false,"zero":false},"axis":null},"x2":{"field":"i2"},
  "y":{"field":"p","type":"quantitative","title":null,"scale":{"domain":[0.3943,0.6172],"nice":false,"zero":false}},"y2":{"field":"p2"}}},
{"data":{"name":"cross"},"mark":{"type":"point","shape":"cross","filled":true,"size":70,"color":"#5b4fae","opacity":1},
 "encoding":{"x":{"field":"i","type":"quantitative","scale":{"domain":[-0.42,308.2],"nice":false,"zero":false},"axis":null},
  "y":{"field":"p","type":"quantitative","title":null,"scale":{"domain":[0.3943,0.6172],"nice":false,"zero":false}}}},
{"data":{"values":[{"i":312.9,"p":0.6,"n":"red"},{"i":312.9,"p":0.5777,"n":"blue"},{"i":312.9,"p":0.5619,"n":"grey"},{"i":312.9,"p":0.5,"n":"green"},{"i":312.9,"p":0.4541,"n":"green"},{"i":312.9,"p":0.3967,"n":"green"},{"i":312.9,"p":0.4307,"n":"navy"}]},
 "mark":{"type":"tick","orient":"horizontal","size":30,"thickness":10,"opacity":1},
 "encoding":{"x":{"field":"i","type":"quantitative","scale":{"domain":[-0.42,308.2],"nice":false,"zero":false},"axis":null},
  "y":{"field":"p","type":"quantitative","title":null,"scale":{"domain":[0.3943,0.6172],"nice":false,"zero":false}},
  "color":{"field":"n","type":"nominal","scale":{"domain":["red","blue","grey","green","navy"],"range":["#ff1a1a","#5b7ff0","#a0a0a0","#2f5a1f","#0000ff"]},"legend":null}}},
{"data":{"values":[{"i":312.9,"p":0.6},{"i":312.9,"p":0.5777},{"i":312.9,"p":0.5619},{"i":312.9,"p":0.5},{"i":312.9,"p":0.4541},{"i":312.9,"p":0.3967},{"i":312.9,"p":0.4307}]},
 "mark":{"type":"text","align":"center","baseline":"middle","fontSize":8.5,"fontWeight":"bold","color":"#ffffff"},
 "encoding":{"x":{"field":"i","type":"quantitative","scale":{"domain":[-0.42,308.2],"nice":false,"zero":false},"axis":null},
  "y":{"field":"p","type":"quantitative","title":null,"scale":{"domain":[0.3943,0.6172],"nice":false,"zero":false}},
  "text":{"field":"p","type":"quantitative","format":".4f"}}},
{"data":{"values":[{"i":312.9,"p":0.5605}]},"mark":{"type":"tick","orient":"horizontal","size":30,"thickness":10,"opacity":1,"color":"#2f5a1f","yOffset":10},
 "encoding":{"x":{"field":"i","type":"quantitative","scale":{"domain":[-0.42,308.2],"nice":false,"zero":false},"axis":null},
  "y":{"field":"p","type":"quantitative","title":null,"scale":{"domain":[0.3943,0.6172],"nice":false,"zero":false}}}},
{"data":{"values":[{"i":312.9,"p":0.5605}]},"mark":{"type":"text","align":"center","baseline":"middle","fontSize":8.5,"fontWeight":"bold","color":"#ffffff","dy":10},
 "encoding":{"x":{"field":"i","type":"quantitative","scale":{"domain":[-0.42,308.2],"nice":false,"zero":false},"axis":null},
  "y":{"field":"p","type":"quantitative","title":null,"scale":{"domain":[0.3943,0.6172],"nice":false,"zero":false}},
  "text":{"field":"p","type":"quantitative","format":".4f"}}},
{"data":{"values":[{"i":312.9,"p":0.5487}]},"mark":{"type":"tick","orient":"horizontal","size":30,"thickness":10,"opacity":1,"color":"#ff9a00","yOffset":6},
 "encoding":{"x":{"field":"i","type":"quantitative","scale":{"domain":[-0.42,308.2],"nice":false,"zero":false},"axis":null},
  "y":{"field":"p","type":"quantitative","title":null,"scale":{"domain":[0.3943,0.6172],"nice":false,"zero":false}}}},
{"data":{"values":[{"i":312.9,"p":0.5487}]},"mark":{"type":"text","align":"center","baseline":"middle","fontSize":8.5,"fontWeight":"bold","color":"#ffffff","dy":6},
 "encoding":{"x":{"field":"i","type":"quantitative","scale":{"domain":[-0.42,308.2],"nice":false,"zero":false},"axis":null},
  "y":{"field":"p","type":"quantitative","title":null,"scale":{"domain":[0.3943,0.6172],"nice":false,"zero":false}},
  "text":{"field":"p","type":"quantitative","format":".4f"}}},
{"data":{"values":[{"i":312.9,"p":0.5453}]},"mark":{"type":"tick","orient":"horizontal","size":30,"thickness":10,"opacity":1,"color":"#00ffff","yOffset":12},
 "encoding":{"x":{"field":"i","type":"quantitative","scale":{"domain":[-0.42,308.2],"nice":false,"zero":false},"axis":null},
  "y":{"field":"p","type":"quantitative","title":null,"scale":{"domain":[0.3943,0.6172],"nice":false,"zero":false}}}},
{"data":{"values":[{"i":312.9,"p":0.5453}]},"mark":{"type":"text","align":"center","baseline":"middle","fontSize":8.5,"fontWeight":"bold","color":"#000000","dy":12},
 "encoding":{"x":{"field":"i","type":"quantitative","scale":{"domain":[-0.42,308.2],"nice":false,"zero":false},"axis":null},
  "y":{"field":"p","type":"quantitative","title":null,"scale":{"domain":[0.3943,0.6172],"nice":false,"zero":false}},
  "text":{"field":"p","type":"quantitative","format":".4f"}}},
{"data":{"values":[{"i":50.6,"p":0.6057},{"i":54.0,"p":0.6057},{"i":28.1,"p":0.5934},{"i":31.6,"p":0.5934},{"i":35.0,"p":0.5934}]},
 "mark":{"type":"point","shape":"square","filled":true,"size":42,"color":"#e0e0e0","opacity":1},
 "encoding":{"x":{"field":"i","type":"quantitative","scale":{"domain":[-0.42,308.2],"nice":false,"zero":false},"axis":null},
  "y":{"field":"p","type":"quantitative","title":null,"scale":{"domain":[0.3943,0.6172],"nice":false,"zero":false}}}},
{"data":{"values":[{"i":1.2,"p":0.6057,"t":"⊟"},{"i":45.8,"p":0.6057,"t":"▾"},{"i":23.3,"p":0.5934,"t":"▾"}]},
 "mark":{"type":"text","align":"left","baseline":"middle","fontSize":10,"color":"#999999","font":"DejaVu Sans"},
 "encoding":{"x":{"field":"i","type":"quantitative","scale":{"domain":[-0.42,308.2],"nice":false,"zero":false},"axis":null},
  "y":{"field":"p","type":"quantitative","title":null,"scale":{"domain":[0.3943,0.6172],"nice":false,"zero":false}},"text":{"field":"t"}}},
{"data":{"values":[{"i":5.2,"p":0.6057,"t":"ADA/USD, 240, Synthetic"}]},
 "mark":{"type":"text","align":"left","baseline":"middle","fontSize":10.4,"color":"#333333"},
 "encoding":{"x":{"field":"i","type":"quantitative","scale":{"domain":[-0.42,308.2],"nice":false,"zero":false},"axis":null},
  "y":{"field":"p","type":"quantitative","title":null,"scale":{"domain":[0.3943,0.6172],"nice":false,"zero":false}},"text":{"field":"t"}}},
{"data":{"values":[{"i":57.3,"p":0.6057,"t":"O"},{"i":71.3,"p":0.6057,"t":"H"},{"i":86.6,"p":0.6057,"t":"L"},{"i":100.4,"p":0.6057,"t":"C"}]},
 "mark":{"type":"text","align":"left","baseline":"middle","fontSize":9.5,"color":"#555555"},
 "encoding":{"x":{"field":"i","type":"quantitative","scale":{"domain":[-0.42,308.2],"nice":false,"zero":false},"axis":null},
  "y":{"field":"p","type":"quantitative","title":null,"scale":{"domain":[0.3943,0.6172],"nice":false,"zero":false}},"text":{"field":"t"}}},
{"data":{"values":[{"i":59.9,"p":0.6057,"t":"0.5777"},{"i":74.2,"p":0.6057,"t":"0.5809"},{"i":88.8,"p":0.6057,"t":"0.5734"},{"i":103.0,"p":0.6057,"t":"0.5777"}]},
 "mark":{"type":"text","align":"left","baseline":"middle","fontSize":9.5,"color":"#3a8a52"},
 "encoding":{"x":{"field":"i","type":"quantitative","scale":{"domain":[-0.42,308.2],"nice":false,"zero":false},"axis":null},
  "y":{"field":"p","type":"quantitative","title":null,"scale":{"domain":[0.3943,0.6172],"nice":false,"zero":false}},"text":{"field":"t"}}},
{"data":{"values":[{"i":1.45,"p":0.5934,"t":"EMA Cross (21, 55)"}]},
 "mark":{"type":"text","align":"left","baseline":"middle","fontSize":7.2,"color":"#555555"},
 "encoding":{"x":{"field":"i","type":"quantitative","scale":{"domain":[-0.42,308.2],"nice":false,"zero":false},"axis":null},
  "y":{"field":"p","type":"quantitative","title":null,"scale":{"domain":[0.3943,0.6172],"nice":false,"zero":false}},"text":{"field":"t"}}},
{"data":{"values":[{"i":38.3,"p":0.5934,"t":"0.5619","k":"a"},{"i":47.0,"p":0.5934,"t":"0.5487","k":"b"},{"i":56.4,"p":0.5934,"t":"n/a","k":"c"}]},
 "mark":{"type":"text","align":"left","baseline":"middle","fontSize":7.8},
 "encoding":{"x":{"field":"i","type":"quantitative","scale":{"domain":[-0.42,308.2],"nice":false,"zero":false},"axis":null},
  "y":{"field":"p","type":"quantitative","title":null,"scale":{"domain":[0.3943,0.6172],"nice":false,"zero":false}},"text":{"field":"t"},
  "color":{"field":"k","type":"nominal","scale":{"domain":["a","b","c"],"range":["#9a9a9a","#f5a623","#232399"]},"legend":null}}},
{"data":{"values":[{"i":2.7,"p":0.4065,"t":"Investing"}]},
 "mark":{"type":"text","align":"left","baseline":"middle","fontSize":13.5,"fontWeight":"bold","color":"#111111"},
 "encoding":{"x":{"field":"i","type":"quantitative","scale":{"domain":[-0.42,308.2],"nice":false,"zero":false},"axis":null},
  "y":{"field":"p","type":"quantitative","title":null,"scale":{"domain":[0.3943,0.6172],"nice":false,"zero":false}},"text":{"field":"t"}}},
{"data":{"values":[{"i":20.8,"p":0.4060,"t":".com"}]},
 "mark":{"type":"text","align":"left","baseline":"middle","fontSize":10,"color":"#777777"},
 "encoding":{"x":{"field":"i","type":"quantitative","scale":{"domain":[-0.42,308.2],"nice":false,"zero":false},"axis":null},
  "y":{"field":"p","type":"quantitative","title":null,"scale":{"domain":[0.3943,0.6172],"nice":false,"zero":false}},"text":{"field":"t"}}}
]
},
{
"width":989,"height":138,
"resolve":{"scale":{"color":"independent"}},
"layer":[
{"data":{"values":[{"lo":30,"hi":70}]},"mark":{"type":"rect","color":"#f3e6f3"},
 "encoding":{"y":{"field":"lo","type":"quantitative","title":null,"scale":{"domain":[19.1,85.4],"nice":false,"zero":false}},"y2":{"field":"hi"}}},
{"data":{"values":[{"v":70},{"v":30}]},"mark":{"type":"rule","color":"#9a9a9a","strokeWidth":1,"strokeDash":[4,3]},
 "encoding":{"y":{"field":"v","type":"quantitative","title":null,"scale":{"domain":[19.1,85.4],"nice":false,"zero":false}}}},
{"data":{"values":[{"v":50}]},"mark":{"type":"rule","color":"#a6c8dc","strokeWidth":1},
 "encoding":{"y":{"field":"v","type":"quantitative","title":null,"scale":{"domain":[19.1,85.4],"nice":false,"zero":false}}}},
{"data":{"values":[{"v":76.8437}]},"mark":{"type":"rule","color":"#3b3bff","strokeWidth":1.2},
 "encoding":{"y":{"field":"v","type":"quantitative","title":null,"scale":{"domain":[19.1,85.4],"nice":false,"zero":false}}}},
{"data":{"values":[{"v":85.4}]},"mark":{"type":"rule","color":"#5a5a5a","strokeWidth":3},
 "encoding":{"y":{"field":"v","type":"quantitative","title":null,"scale":{"domain":[19.1,85.4],"nice":false,"zero":false}}}},
{"data":{"name":"rsi"},"mark":{"type":"line","color":"#b86cc8","strokeWidth":1.2},
 "encoding":{"x":{"field":"i","type":"quantitative","title":null,"scale":{"domain":[-0.42,308.2],"nice":false,"zero":false},
   "axis":{"orient":"bottom","values":[10.5,28.5,46.5,64.5,82.5,100.5,118.5,136.5,160.5,178.5,196.5,214.5,232.5,250.5,268.5,286.5,304.5],
    "labelExpr":"['10','13','16','19','22','25','28','Aug','4','7','10','13','16','19','22','25','28'][indexof([10.5,28.5,46.5,64.5,82.5,100.5,118.5,136.5,160.5,178.5,196.5,214.5,232.5,250.5,268.5,286.5,304.5], datum.value)]",
    "title":null,"labelColor":"#555555","labelFontSize":9,"labelFont":"Liberation Sans","tickSize":3,"tickColor":"#999999","domainColor":"#c8c8c8","domainWidth":3,"labelPadding":2,"labelFlush":false,"labelOverlap":false,"grid":false,
    "labelFontWeight":{"condition":{"test":"datum.value == 136.5","value":"bold"},"value":"normal"}}},
  "y":{"field":"v","type":"quantitative","title":null,"scale":{"domain":[19.1,85.4],"nice":false,"zero":false},
   "axis":{"orient":"right","values":[80,70,40,30],"format":".4f","title":null,"labelColor":"#555555","labelFontSize":8,"labelFont":"Liberation Sans","tickSize":3,"tickColor":"#999999","domainColor":"#c8c8c8","domainWidth":3,"labelPadding":1,"labelFlush":false,"labelOverlap":false,"grid":false}}}},
{"data":{"values":[{"i":313.5,"v":76.8437,"n":"blue"},{"i":313.5,"v":60.2945,"n":"purple"},{"i":313.5,"v":50,"n":"light"}]},
 "mark":{"type":"tick","orient":"horizontal","size":34,"thickness":10,"opacity":1},
 "encoding":{"x":{"field":"i","type":"quantitative","title":null,"scale":{"domain":[-0.42,308.2],"nice":false,"zero":false}},
  "y":{"field":"v","type":"quantitative","title":null,"scale":{"domain":[19.1,85.4],"nice":false,"zero":false}},
  "color":{"field":"n","type":"nominal","scale":{"domain":["blue","purple","light"],"range":["#0000ff","#800080","#80cfe0"]},"legend":null}}},
{"data":{"values":[{"i":313.5,"v":76.8437,"n":"blue"},{"i":313.5,"v":60.2945,"n":"purple"},{"i":313.5,"v":50,"n":"light"}]},
 "mark":{"type":"text","align":"center","baseline":"middle","fontSize":8,"fontWeight":"bold"},
 "encoding":{"x":{"field":"i","type":"quantitative","title":null,"scale":{"domain":[-0.42,308.2],"nice":false,"zero":false}},
  "y":{"field":"v","type":"quantitative","title":null,"scale":{"domain":[19.1,85.4],"nice":false,"zero":false}},
  "text":{"field":"v","type":"quantitative","format":".4f"},
  "color":{"condition":{"test":"datum.n == 'light'","value":"#222222"},"value":"#ffffff"}}},
{"data":{"values":[{"i":313.5,"v":20.3}]},"mark":{"type":"tick","orient":"horizontal","size":34,"thickness":4,"opacity":1,"color":"#ff0000"},
 "encoding":{"x":{"field":"i","type":"quantitative","title":null,"scale":{"domain":[-0.42,308.2],"nice":false,"zero":false}},
  "y":{"field":"v","type":"quantitative","title":null,"scale":{"domain":[19.1,85.4],"nice":false,"zero":false}}}},
{"data":{"values":[{"i":15.3,"v":80.1},{"i":18.8,"v":80.1},{"i":22.2,"v":80.1}]},
 "mark":{"type":"point","shape":"square","filled":true,"size":42,"color":"#e0e0e0","opacity":1},
 "encoding":{"x":{"field":"i","type":"quantitative","title":null,"scale":{"domain":[-0.42,308.2],"nice":false,"zero":false}},
  "y":{"field":"v","type":"quantitative","title":null,"scale":{"domain":[19.1,85.4],"nice":false,"zero":false}}}},
{"data":{"values":[{"i":1.45,"v":80.1,"t":"RSI (14)","k":"a"},{"i":10.8,"v":80.1,"t":"▾","k":"b"},{"i":25.8,"v":80.1,"t":"60.2945","k":"c"}]},
 "mark":{"type":"text","align":"left","baseline":"middle","fontSize":7.5},
 "encoding":{"x":{"field":"i","type":"quantitative","title":null,"scale":{"domain":[-0.42,308.2],"nice":false,"zero":false}},
  "y":{"field":"v","type":"quantitative","title":null,"scale":{"domain":[19.1,85.4],"nice":false,"zero":false}},"text":{"field":"t"},
  "color":{"field":"k","type":"nominal","scale":{"domain":["a","b","c"],"range":["#555555","#aaaaaa","#8b3a8b"]},"legend":null}}}
]
}
]
}
